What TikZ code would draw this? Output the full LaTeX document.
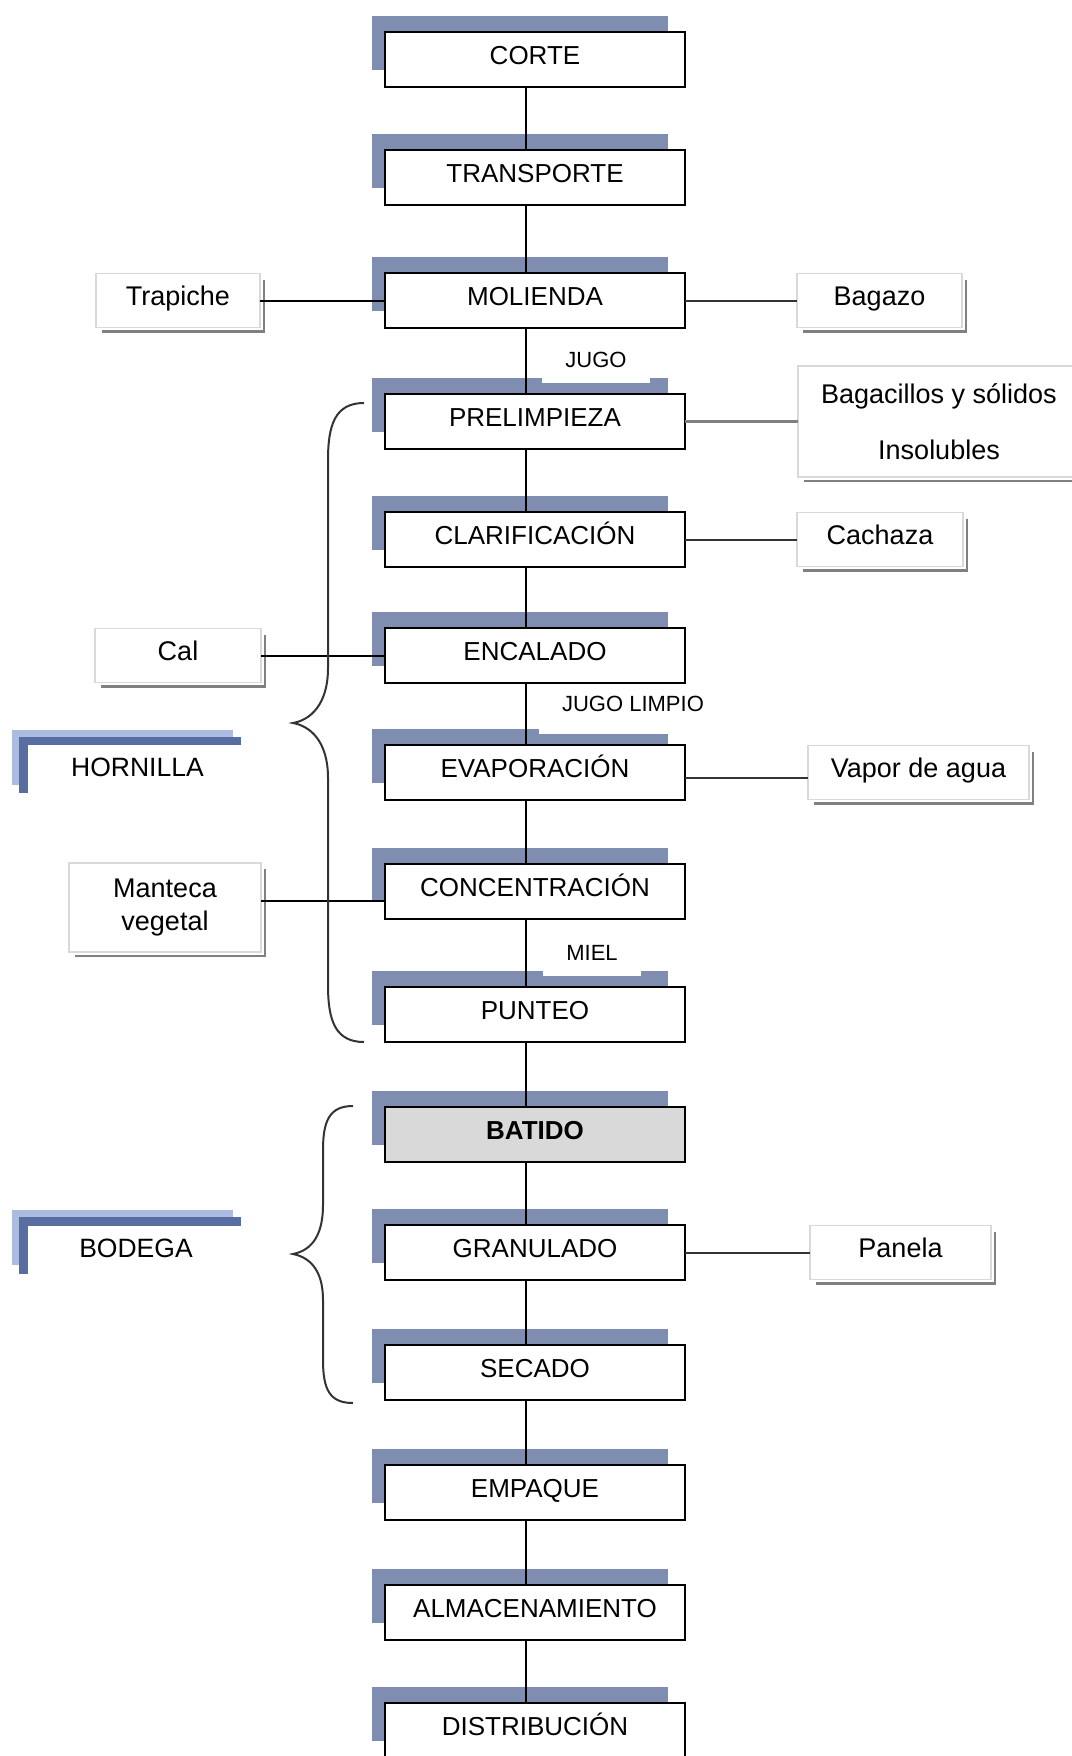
\documentclass[tikz,border=0pt]{standalone}
\usepackage{fontspec}
\setmainfont{Liberation Sans}
\usetikzlibrary{positioning,shadows}

\definecolor{shadowblue}{RGB}{127,142,176}
\definecolor{barlight}{RGB}{171,188,224}
\definecolor{bardark}{RGB}{88,110,162}
\definecolor{inkgray}{RGB}{51,51,51}
\definecolor{batidogray}{RGB}{217,217,217}

\begin{document}
\begin{tikzpicture}[x=1pt,y=-1pt,
    stage/.style={rectangle, draw=black, line width=2.2pt, fill=white,
      minimum width=300pt, minimum height=55pt, inner sep=0pt, outer sep=0pt,
      text height=18.5pt, text depth=9.5pt,
      font=\fontsize{26}{31}\selectfont,
      general shadow={fill=shadowblue, shadow scale=0.985,
        shadow xshift=-15pt, shadow yshift=17pt}},
    waste/.style={rectangle, draw=gray!30, line width=1.5pt, fill=white,
      minimum height=54pt, inner sep=0pt, outer sep=0pt, align=center,
      font=\fontsize{27}{32}\selectfont},
    oneline/.style={text height=19.5pt, text depth=10.5pt},
    wasteedge/.style={draw=gray, line width=2.5pt},
    flowtag/.style={fill=white, inner xsep=23pt, inner ysep=0pt,
      minimum height=46pt, anchor=south,
      font=\fontsize{22}{26}\selectfont},
    section/.style={font=\fontsize{26.5}{31}\selectfont},
    barback/.style={draw=barlight, line width=8pt},
    barfront/.style={draw=bardark, line width=8.5pt},
    link/.style={draw=black, line width=2pt},
    sidelink/.style={draw=inkgray, line width=2pt},
    heavylink/.style={draw=gray, line width=3.5pt},
    bracket/.style={draw=inkgray, line width=2pt}]
  \useasboundingbox (0,0) rectangle (1071,1756);

  % Process stages
  \node[stage] (corte) at (535,59.5) {CORTE};
  \node[stage, below=63pt of corte] (transporte) {TRANSPORTE};
  \node[stage, below=68pt of transporte] (molienda) {MOLIENDA};
  \node[stage, below=66pt of molienda] (prelimpieza) {PRELIMPIEZA};
  \node[stage, below=63pt of prelimpieza] (clarificacion) {CLARIFICACIÓN};
  \node[stage, below=61pt of clarificacion] (encalado) {ENCALADO};
  \node[stage, below=62pt of encalado] (evaporacion) {EVAPORACIÓN};
  \node[stage, below=64pt of evaporacion] (concentracion) {CONCENTRACIÓN};
  \node[stage, below=68pt of concentracion] (punteo) {PUNTEO};
  \node[stage, below=65pt of punteo, fill=batidogray,
    font=\fontsize{26}{31}\selectfont\bfseries] (batido) {BATIDO};
  \node[stage, below=63pt of batido] (granulado) {GRANULADO};
  \node[stage, below=65pt of granulado] (secado) {SECADO};
  \node[stage, below=65pt of secado] (empaque) {EMPAQUE};
  \node[stage, below=65pt of empaque] (almacenamiento) {ALMACENAMIENTO};
  \node[stage, below=63pt of almacenamiento] (distribucion) {DISTRIBUCIÓN};

  % Inputs and by-products
  \node[waste, oneline, minimum width=164pt, left=125pt of molienda] (trapiche) {Trapiche};
  \node[waste, oneline, minimum width=165pt, right=112pt of molienda] (bagazo) {Bagazo};
  \node[waste, minimum width=282pt, minimum height=111pt,
    font=\fontsize{27}{56}\selectfont,
    right=113pt of prelimpieza] (bagacillos) {Bagacillos y sólidos\\Insolubles};
  \node[waste, oneline, minimum width=166pt, right=112pt of clarificacion] (cachaza) {Cachaza};
  \node[waste, oneline, minimum width=166pt, left=124pt of encalado] (cal) {Cal};
  \node[waste, oneline, minimum width=221pt, right=123pt of evaporacion] (vapor) {Vapor de agua};
  \node[waste, minimum width=192pt, minimum height=89pt,
    font=\fontsize{27}{33}\selectfont,
    left=124pt of concentracion, yshift=-16pt] (manteca) {Manteca\\vegetal};
  \node[waste, oneline, minimum width=181pt, right=125pt of granulado] (panela) {Panela};
  \foreach \s in {trapiche,bagazo,bagacillos,cachaza,cal,vapor,manteca,panela}
    \draw[wasteedge] ([shift={(4pt,-6pt)}]\s.north east)
      -- ([shift={(4pt,-4pt)}]\s.south east) -- ([shift={(6pt,-4pt)}]\s.south west);

  % Main flow
  \foreach \a/\b in {corte/transporte, transporte/molienda, molienda/prelimpieza,
      prelimpieza/clarificacion, clarificacion/encalado, encalado/evaporacion,
      evaporacion/concentracion, concentracion/punteo, punteo/batido,
      batido/granulado, granulado/secado, secado/empaque,
      empaque/almacenamiento, almacenamiento/distribucion}
    \draw[link] ([xshift=-9pt]\a.south) -- ([xshift=-9pt]\b.north);

  % Flow labels
  \node[flowtag] (jugo) at ([xshift=61pt, yshift=11pt]prelimpieza.north) {JUGO};
  \node[flowtag, text height=16pt, text depth=14pt] (jugolimpio)
    at ([xshift=98pt, yshift=11pt]evaporacion.north) {JUGO LIMPIO};
  \node[flowtag] (miel) at ([xshift=57pt, yshift=11pt]punteo.north) {MIEL};

  % Side connections
  \draw[link] (trapiche.east) -- (molienda.west);
  \draw[link] (cal.east) -- (encalado.west);
  \draw[link] ([yshift=6.5pt]manteca.east) -- ([yshift=-9.5pt]concentracion.west);
  \draw[sidelink] (molienda.east) -- (bagazo.west);
  \draw[heavylink] (prelimpieza.east) -- (bagacillos.west);
  \draw[sidelink] (clarificacion.east) -- (cachaza.west);
  \draw[sidelink] ([yshift=-5pt]evaporacion.east) -- ([yshift=-5pt]vapor.west);
  \draw[sidelink] (granulado.east) -- (panela.west);

  % Areas
  \node[section] (hornilla) at (137.5,767) {HORNILLA};
  \draw[barback] (233,733.5) -- (15.5,733.5) -- (15.5,785);
  \draw[barfront] (241,741) -- (23.5,741) -- (23.5,793);
  \node[section] (bodega) at (136,1248) {BODEGA};
  \draw[barback] (233,1213.5) -- (15.5,1213.5) -- (15.5,1265);
  \draw[barfront] (241,1221.5) -- (23.5,1221.5) -- (23.5,1274);

  % Braces
  \draw[bracket] (364,403) .. controls (335,403) and (328,425) .. (328,460)
    -- (328,668) .. controls (328,705) and (310,720) .. (293,723)
    .. controls (310,726) and (328,741) .. (328,778)
    -- (328,985) .. controls (328,1020) and (335,1042) .. (364,1042);
  \draw[bracket] (353,1106) .. controls (330,1106) and (323,1120) .. (323,1150)
    -- (323,1205) .. controls (323,1240) and (308,1251) .. (293,1254)
    .. controls (308,1257) and (323,1268) .. (323,1300)
    -- (323,1360) .. controls (323,1390) and (330,1403) .. (353,1403);
\end{tikzpicture}
\end{document}
